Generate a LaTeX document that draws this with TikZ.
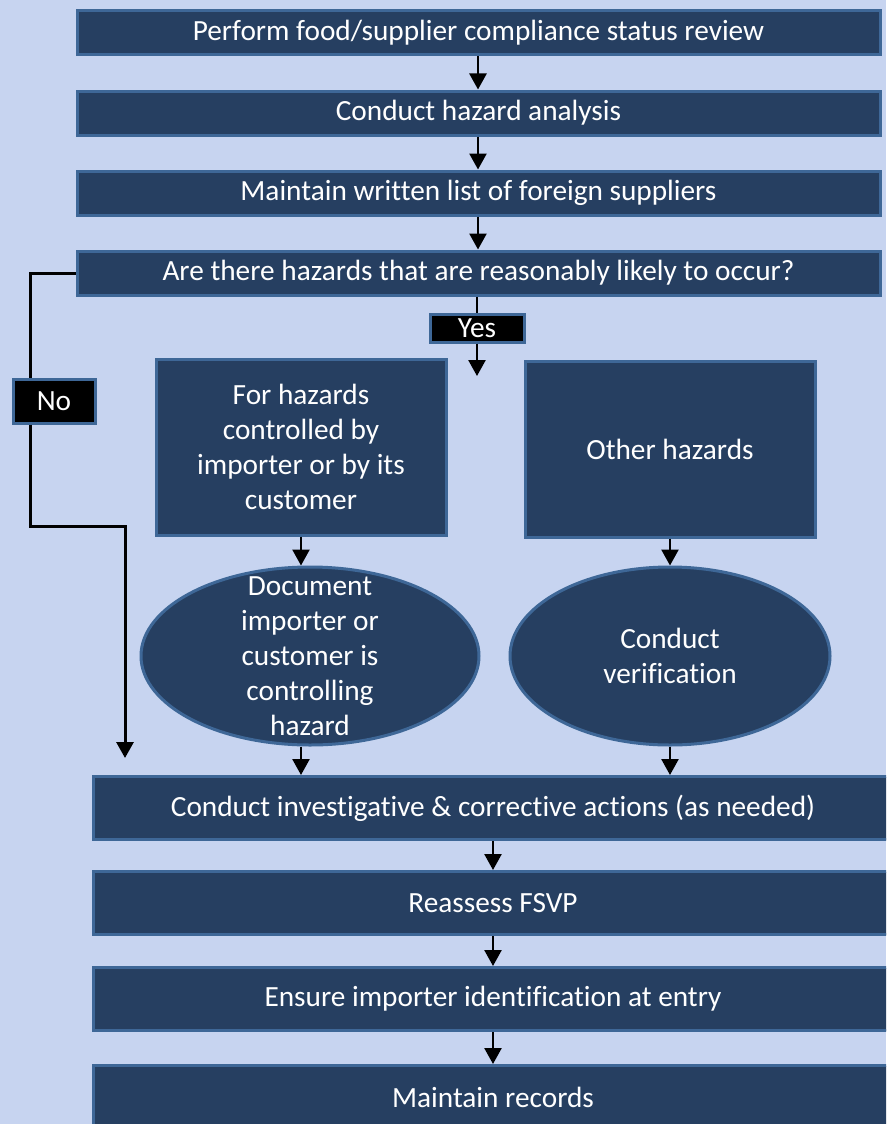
\documentclass[tikz,border=0pt]{standalone}
\usepackage{fontspec}
\setmainfont{Carlito}[Ligatures=CommonOff]
\usetikzlibrary{arrows.meta,shapes.geometric}
\definecolor{bgc}{HTML}{C7D4F0}
\definecolor{boxfill}{HTML}{263F61}
\definecolor{boxline}{HTML}{3E6797}
\tikzset{
  stepbox/.style={rectangle, fill=boxfill, draw=boxline, line width=3pt, text=white, font=\fontsize{29.3}{35}\selectfont, inner sep=0pt},
  ovalbox/.style={ellipse, fill=boxfill, draw=boxline, line width=3pt, inner sep=0pt},
  ovaltext/.style={text=white, font=\fontsize{29.3}{35}\selectfont, inner sep=0pt, align=center},
  tagbox/.style={rectangle, fill=black, draw=boxline, line width=3pt, text=white, font=\fontsize{29.3}{35}\selectfont, inner sep=0pt},
  flow/.style={line width=2.5pt, -{Triangle[length=16pt,width=17pt]}},
  wire/.style={line width=3pt, line join=miter}
}
\begin{document}
\begin{tikzpicture}[x=1pt,y=-1pt]
\useasboundingbox (0,0) rectangle (886,1124);
\clip (0,0) rectangle (886,1124);
\fill[bgc] (0,0) rectangle (886,1124);

\node[stepbox, minimum width=803pt, minimum height=44pt] (b1) at (478.5,33) {Perform food/supplier compliance status review};
\node[stepbox, minimum width=803pt, minimum height=44pt] (b2) at (478.5,113) {Conduct hazard analysis};
\node[stepbox, minimum width=803pt, minimum height=44pt] (b3) at (478.5,193) {Maintain written list of foreign suppliers};
\node[stepbox, minimum width=803pt, minimum height=44pt] (b4) at (478.5,273) {Are there hazards that are reasonably likely to occur?};

\node[tagbox, minimum width=94pt, minimum height=28pt] (yes) at (477,328) {Yes};
\node[tagbox, minimum width=82pt, minimum height=44pt] (no) at (54,401) {No};

\node[stepbox, align=center, minimum width=290pt, minimum height=176pt] (l1) at (301,447) {For hazards\\controlled by\\importer or by its\\customer};
\node[stepbox, minimum width=290pt, minimum height=176pt] (r1) at (670,449) {Other hazards};

\node[ovalbox, minimum width=338pt, minimum height=178pt] (l2) at (310,656) {};
\node[ovaltext] (l2t) at (l2.center) {Document\\importer or\\customer is\\controlling\\hazard};
\node[ovalbox, minimum width=320pt, minimum height=178pt] (r2) at (670,656) {};
\node[ovaltext] (r2t) at (r2.center) {Conduct\\verification};

\node[stepbox, minimum width=800pt, minimum height=63pt] (c1) at (493,808) {Conduct investigative \& corrective actions (as needed)};
\node[stepbox, minimum width=800pt, minimum height=63pt] (c2) at (493,903) {Reassess FSVP};
\node[stepbox, minimum width=800pt, minimum height=63pt] (c3) at (493,999) {Ensure importer identification at entry};
\node[stepbox, minimum width=800pt, minimum height=63pt] (c4) at (493,1097) {Maintain records};

\coordinate (yend) at (477,376);
\coordinate (nA) at (30,273);
\coordinate (nB) at (30,526);
\coordinate (nC) at (125,526);
\coordinate (nD) at (125,758);

\draw[flow] (b1.south -| 478,0) -- (b2.north -| 478,0);
\draw[flow] (b2.south -| 478,0) -- (b3.north -| 478,0);
\draw[flow] (b3.south -| 478,0) -- (b4.north -| 478,0);
\draw[line width=2.5pt] (b4.south -| yes.north) -- (yes.north);
\draw[flow] (yes.south) -- (yend);

\draw[wire] (b4.west) -- (nA) -- (no.north -| nA);
\draw[wire, -{Triangle[length=16pt,width=17pt]}] (no.south -| nA) -- (nB) -- (nC) -- (nD);

\draw[flow] (l1.south) -- (l2.north -| l1.south);
\draw[flow] (r1.south) -- (r2.north);
\draw[flow] (l2.south -| l1.south) -- (c1.north -| l1.south);
\draw[flow] (r2.south) -- (c1.north -| r2.south);

\draw[flow] (c1.south -| 493,0) -- (c2.north -| 493,0);
\draw[flow] (c2.south -| 493,0) -- (c3.north -| 493,0);
\draw[flow] (c3.south -| 493,0) -- (c4.north -| 493,0);
\end{tikzpicture}
\end{document}
